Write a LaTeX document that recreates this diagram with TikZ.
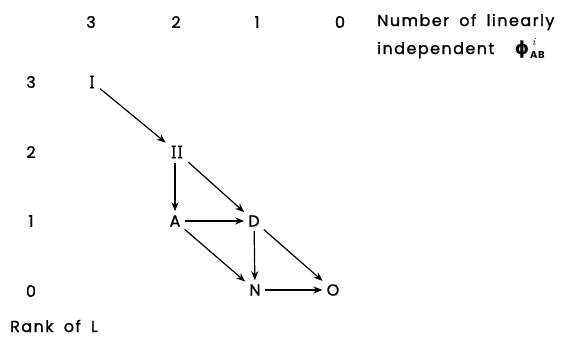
\documentclass[tikz,border=0pt]{standalone}
\usepackage{fontspec}
\setmainfont{Poppins}[LetterSpace=9,WordSpace=1.8,FakeBold=1.2]
\newfontfamily\romfont{Latin Modern Roman}[FakeBold=1.5]
\newfontfamily\grkfont{DejaVu Sans Bold}
\newfontfamily\subfont{Poppins Bold}[LetterSpace=6]
\newfontfamily\supfont{Latin Modern Roman}
\usetikzlibrary{arrows.meta}
\tikzset{
  lbl/.style={font=\fontsize{16}{18}\selectfont, inner sep=0pt},
  st/.style={font=\fontsize{16}{18}\selectfont, inner sep=4pt},
  rom/.style={font=\romfont\fontsize{18}{20}\selectfont, inner sep=5pt},
  arr/.style={-{Stealth[length=9pt,width=7pt]}, line width=1.2pt}
}
\begin{document}
\begin{tikzpicture}[x=1pt,y=-1pt]
\useasboundingbox (0,0) rectangle (572,339);
% column heads
\node[lbl] (c3) at (91,22) {3};
\node[lbl] (c2) at (176,22) {2};
\node[lbl] (c1) at (257,22) {1};
\node[lbl] (c0) at (340,22) {0};
\node[lbl, anchor=west] (h1) at (377,22) {Number of linearly};
\node[lbl, anchor=west] (h2) at (377,48) {independent\ \ {\grkfont\fontsize{18}{20}\selectfont ϕ}\kern1pt\rlap{\raisebox{9pt}{\supfont\itshape\fontsize{11}{12}\selectfont\kern2pt i}}\raisebox{-4pt}{\subfont\fontsize{10}{11}\selectfont AB}};
% row heads
\node[lbl] (r3) at (31,82) {3};
\node[lbl] (r2) at (31,152) {2};
\node[lbl] (r1) at (31,221) {1};
\node[lbl] (r0) at (31,291) {0};
\node[lbl, anchor=base west] (rk) at (10,332) {Rank of L};
% states
\node[rom] (I) at (92,82) {I};
\node[rom] (II) at (177,152) {II};
\node[st] (A) at (175,221) {A};
\node[st] (D) at (254,221) {D};
\node[st] (N) at (255,290) {N};
\node[st] (O) at (333,290) {O};
% transitions
\draw[arr] (I) -- (II);
\draw[arr] (II.south -| A) -- (A);
\draw[arr] (II) -- (D);
\draw[arr] (A) -- (D);
\draw[arr] (A) -- (N);
\draw[arr] (D) -- (N);
\draw[arr] (D) -- (O);
\draw[arr] (N) -- (O);
\end{tikzpicture}
\end{document}
